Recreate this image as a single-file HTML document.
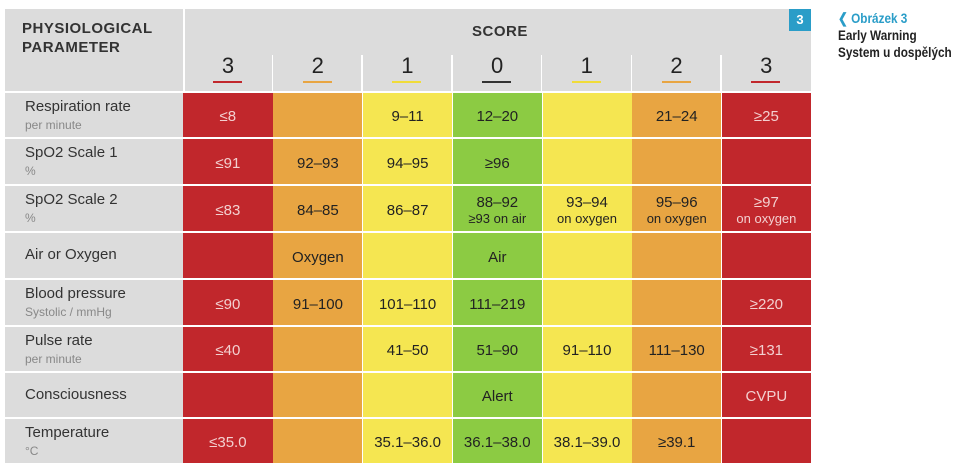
<!DOCTYPE html>
<html><head><meta charset="utf-8"><style>
body{margin:0;width:973px;height:472px;background:#fff;font-family:"Liberation Sans",sans-serif;position:relative;overflow:hidden}
.a{position:absolute}
.c{position:absolute;display:flex;flex-direction:column;align-items:center;justify-content:center;text-align:center;font-size:15px;color:#222;line-height:16px;box-sizing:border-box;padding-top:4px}
.c small{font-size:13px}
.r{background:#c1272c;color:#f3d0d0}.o{background:#e8a542}.y{background:#f5e651}.g{background:#8ccb43}
.l{position:absolute;left:5px;width:178px;background:#dcdcdc;color:#333}
.l div{position:absolute;left:20px;top:5px;font-size:15px;line-height:18px}
.l span{display:block;font-size:12px;color:#888}
.hd{position:absolute;font-size:22px;color:#222;text-align:center;width:90px}
.u{position:absolute;height:2px;width:29px}
</style></head><body>
<div class="a" style="left:5px;top:9px;width:806px;height:82px;background:#dcdcdc"></div>
<div class="a" style="left:22px;top:19px;font-size:15px;font-weight:bold;line-height:19px;color:#333;letter-spacing:0.5px">PHYSIOLOGICAL<br>PARAMETER</div>
<div class="a" style="left:183px;top:9px;width:2px;height:82px;background:#fff"></div>
<div class="a" style="left:472px;top:23px;font-size:15px;font-weight:bold;color:#333;letter-spacing:0.5px">SCORE</div>
<div class="a" style="left:789px;top:9px;width:22px;height:22px;background:#2a9dc8;color:#fff;font-weight:bold;font-size:13px;text-align:center;line-height:22px">3</div>
<div id="t"></div>
<div class="a" style="left:838px;top:10px;font-size:14px;line-height:17px;font-weight:bold;color:#222;transform:scaleX(0.84);transform-origin:0 0;white-space:nowrap"><span style="color:#2a9dc8">❮ Obrázek 3</span><br>Early Warning<br>System u dospělých</div>
<script>
var cols=['r','o','y','g','y','o','r'],nums=['3','2','1','0','1','2','3'],uc=['#c1272c','#e8a542','#f0dc3a','#333','#f0dc3a','#e8a542','#c1272c'];
var h='';
for(var i=0;i<7;i++){var x=183+i*89.7;
if(i>0)h+='<div class="a" style="left:'+(x-1)+'px;top:55px;width:1.5px;height:36px;background:#fff"></div>';
h+='<div class="hd" style="left:'+x+'px;top:53px">'+nums[i]+'</div><div class="u" style="left:'+(x+30)+'px;top:81px;background:'+uc[i]+'"></div>';}
var rows=[['Respiration rate','per minute',['≤8','','9–11','12–20','','21–24','≥25']],
['SpO2 Scale 1','%',['≤91','92–93','94–95','≥96','','','']],
['SpO2 Scale 2','%',['≤83','84–85','86–87','88–92<br><small>≥93 on air</small>','93–94<br><small>on oxygen</small>','95–96<br><small>on oxygen</small>','≥97<br><small>on oxygen</small>']],
['Air or Oxygen','',['','Oxygen','','Air','','','']],
['Blood pressure','Systolic / mmHg',['≤90','91–100','101–110','111–219','','','≥220']],
['Pulse rate','per minute',['≤40','','41–50','51–90','91–110','111–130','≥131']],
['Consciousness','',['','','','Alert','','','CVPU']],
['Temperature','°C',['≤35.0','','35.1–36.0','36.1–38.0','38.1–39.0','≥39.1','']]];
var tops=[93,139,186,233,280,327,373,419],hs=[44,45,45,45,45,44,44,44];
rows.forEach(function(r,k){var y=tops[k],hh=hs[k];
h+='<div class="l" style="top:'+y+'px;height:'+hh+'px"><div style="'+(r[1]?'':'top:13px')+'">'+r[0]+(r[1]?'<span>'+r[1]+'</span>':'')+'</div></div>';
for(var i=0;i<7;i++){var x=183+i*89.7;
h+='<div class="c '+cols[i]+'" style="left:'+(x+(i?0.7:0))+'px;top:'+y+'px;width:'+(i?89:89.7)+'px;height:'+hh+'px">'+r[2][i]+'</div>';}
});
document.getElementById('t').innerHTML=h;
</script>
</body></html>
